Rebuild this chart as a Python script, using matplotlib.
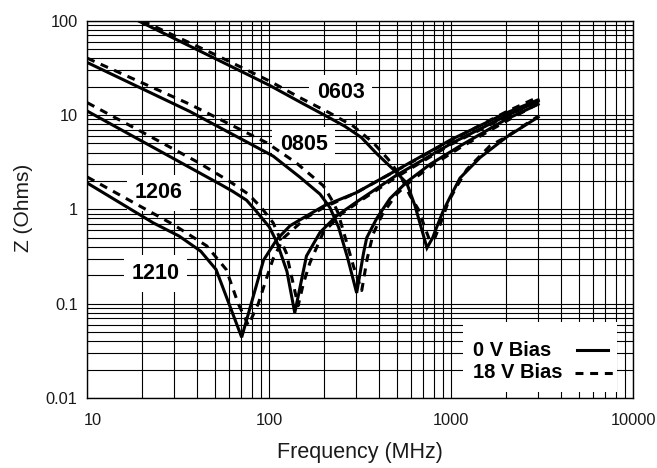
import matplotlib
matplotlib.use("Agg")
import matplotlib.pyplot as plt
import matplotlib.transforms as mtransforms
from matplotlib.patches import Rectangle
from matplotlib.ticker import FixedLocator, FixedFormatter, LogLocator, NullFormatter

plt.rcParams['font.family'] = ['Liberation Sans', 'DejaVu Sans']

# ---------------- data (frequency in MHz, impedance in Ohms) ----------------
f_0603_0v = [19, 50, 100, 150, 215, 260, 320, 389, 480, 569, 631, 690, 735, 790, 832, 900, 985, 1117, 1441, 2014, 3000]
z_0603_0v = [100, 40, 20.7, 13.5, 9.3, 7.6, 5.8, 3.9, 2.65, 1.9, 1.1, 0.6, 0.39, 0.5, 0.65, 0.95, 1.35, 2.15, 3.55, 5.85, 9.5]
f_0603_18v = [20, 50, 100, 150, 215, 290, 372, 450, 530, 593, 659, 720, 764, 813, 870, 963, 1072, 1217, 1629, 2014, 3000]
z_0603_18v = [100, 44, 23, 15, 10.5, 7.6, 5.1, 3.4, 2.2, 1.4, 1.0, 0.62, 0.46, 0.5, 0.7, 1.2, 1.75, 2.65, 4.7, 5.9, 9.7]

f_0805_0v = [10, 36.6, 105, 147, 190, 215, 240, 270, 302, 330, 343, 389, 460, 569, 764, 1117, 2000, 3000]
z_0805_0v = [36, 10.9, 3.67, 2.2, 1.45, 1.05, 0.65, 0.3, 0.13, 0.35, 0.5, 0.8, 1.3, 1.95, 3.0, 4.7, 9.0, 13.0]
f_0805_18v = [10, 36.6, 97, 141, 198, 225, 238, 260, 290, 322, 345, 372, 420, 500, 600, 800, 1117, 2000, 3000]
z_0805_18v = [40, 13.0, 5.07, 3.1, 1.78, 1.18, 0.93, 0.52, 0.25, 0.138, 0.3, 0.55, 0.9, 1.45, 2.0, 3.0, 4.5, 8.6, 13.2]

f_1206_0v = [10, 55, 63, 75, 85, 100, 110, 125, 138, 160, 190, 234, 302, 500, 1000, 2000, 3000]
z_1206_0v = [11, 1.8, 1.55, 1.25, 0.95, 0.65, 0.45, 0.22, 0.08, 0.32, 0.57, 0.85, 1.2, 2.3, 5.0, 9.8, 14.0]
f_1206_18v = [10, 20, 40, 60, 76.7, 90.6, 105, 124, 144, 154, 167, 198, 250, 320, 500, 1000, 2000, 3000]
z_1206_18v = [13.5, 6.6, 3.2, 2.0, 1.45, 1.04, 0.72, 0.345, 0.095, 0.164, 0.27, 0.57, 0.9, 1.25, 2.2, 4.9, 9.6, 14.2]

f_1210_0v = [10, 23, 32, 42, 51, 70.5, 93, 110, 130, 160, 200, 300, 500, 1000, 2000, 3000]
z_1210_0v = [1.9, 0.72, 0.52, 0.36, 0.23, 0.044, 0.29, 0.48, 0.67, 0.85, 1.09, 1.5, 2.6, 5.5, 10.5, 14.5]
f_1210_18v = [10, 29.7, 45.3, 58, 67.5, 76.7, 87, 96.9, 105, 120, 160, 200, 300, 1000, 2000, 3000]
z_1210_18v = [2.2, 0.69, 0.41, 0.23, 0.1, 0.059, 0.1, 0.19, 0.3, 0.5, 0.82, 1.05, 1.5, 5.4, 10.8, 15.5]

case_labels = ["0603", "0805", "1206", "1210"]
legend_labels = ["0 V Bias", "18 V Bias"]
x_ticks = [10, 100, 1000, 10000]
x_tick_labels = ["10", "100", "1000", "10000"]
y_ticks = [0.01, 0.1, 1, 10, 100]
y_tick_labels = ["0.01", "0.1", "1", "10", "100"]

# ---------------- figure ----------------
W, H = 657, 468
fig = plt.figure(figsize=(W / 100, H / 100), dpi=100)
L, R, T, B = 87.3, 633.3, 20.7, 398.0
ax = fig.add_axes([L / W, 1 - B / H, (R - L) / W, (B - T) / H])

def ax_xy(px, py):
    return (px - L) / (R - L), (B - py) / (B - T)

ax.set_xscale("log")
ax.set_yscale("log")
ax.set_xlim(10, 10000)
ax.set_ylim(0.01, 100)

ax.xaxis.set_major_locator(FixedLocator(x_ticks))
ax.xaxis.set_major_formatter(FixedFormatter(x_tick_labels))
ax.yaxis.set_major_locator(FixedLocator(y_ticks))
ax.yaxis.set_major_formatter(FixedFormatter(y_tick_labels))
ax.xaxis.set_minor_locator(LogLocator(base=10, subs=range(2, 10), numticks=20))
ax.yaxis.set_minor_locator(LogLocator(base=10, subs=range(2, 10), numticks=20))
ax.xaxis.set_minor_formatter(NullFormatter())
ax.yaxis.set_minor_formatter(NullFormatter())
ax.tick_params(which="both", length=0, labelsize=11.8, colors="#1a1a1a")
ax.tick_params(axis="x", pad=10.5)
ax.tick_params(axis="y", pad=7)

ax.set_axisbelow(True)
ax.grid(which="both", color="black", lw=0.8)
for s in ax.spines.values():
    s.set_color("black")
    s.set_linewidth(1.0)

ax.set_xlabel("Frequency (MHz)", fontsize=15.5, color="#1a1a1a")
ax.set_ylabel("Z (Ohms)", fontsize=15, color="#1a1a1a")
ax.xaxis.set_label_coords(0.5, ax_xy(0, 442)[1])
ax.yaxis.set_label_coords(ax_xy(33.3, 0)[0], 0.505)

# shift the "10" x tick label slightly to the right
offset = mtransforms.ScaledTranslation(6 / 100, 0, fig.dpi_scale_trans)
first = ax.xaxis.get_major_ticks()[0].label1
first.set_transform(first.get_transform() + offset)

# ---------------- curves ----------------
lw = 2.2
dash = (2.6, 2.2)
series = [
    (f_0603_0v, z_0603_0v, f_0603_18v, z_0603_18v),
    (f_0805_0v, z_0805_0v, f_0805_18v, z_0805_18v),
    (f_1206_0v, z_1206_0v, f_1206_18v, z_1206_18v),
    (f_1210_0v, z_1210_0v, f_1210_18v, z_1210_18v),
]
for f0, z0, f1, z1 in series:
    ax.plot(f1, z1, color="black", lw=lw, dashes=dash, zorder=3, solid_joinstyle="miter")
    ax.plot(f0, z0, color="black", lw=lw, zorder=4, solid_joinstyle="miter")

# ---------------- case size labels ----------------
label_px = [(340.5, 93.0), (303.7, 145.0), (158.5, 193.0), (155.5, 273.5)]
for txt, (px, py) in zip(case_labels, label_px):
    x, y = ax_xy(px, py)
    ax.text(x, y, txt, transform=ax.transAxes, fontsize=15.5, fontweight="bold",
            ha="center", va="center", zorder=2.5,
            bbox=dict(boxstyle="square,pad=0.35", fc="white", ec="none"))

# ---------------- legend ----------------
x0, y1 = ax_xy(463.3, 322)
x1, y0 = ax_xy(616.7, 392)
ax.add_patch(Rectangle((x0, y0), x1 - x0, y1 - y0, transform=ax.transAxes,
                       fc="white", ec="none", zorder=2.2))
tx, ty0 = ax_xy(473, 356)
_, ty1 = ax_xy(473, 378.5)
ax.text(tx, ty0, legend_labels[0], transform=ax.transAxes, fontsize=14.5,
        fontweight="bold", ha="left", va="baseline", zorder=5)
ax.text(tx, ty1, legend_labels[1], transform=ax.transAxes, fontsize=14.5,
        fontweight="bold", ha="left", va="baseline", zorder=5)
sx0, sy0 = ax_xy(576.7, 350)
sx1, _ = ax_xy(608.3, 350)
ax.plot([sx0, sx1], [sy0, sy0], transform=ax.transAxes, color="black", lw=lw,
        zorder=5, clip_on=False)
dx0, dy = ax_xy(575, 372.7)
dx1, _ = ax_xy(616.7, 372.7)
ax.plot([dx0, dx1], [dy, dy], transform=ax.transAxes, color="black", lw=lw,
        dashes=dash, zorder=5, clip_on=False)

fig.savefig("out.png", dpi=100)
